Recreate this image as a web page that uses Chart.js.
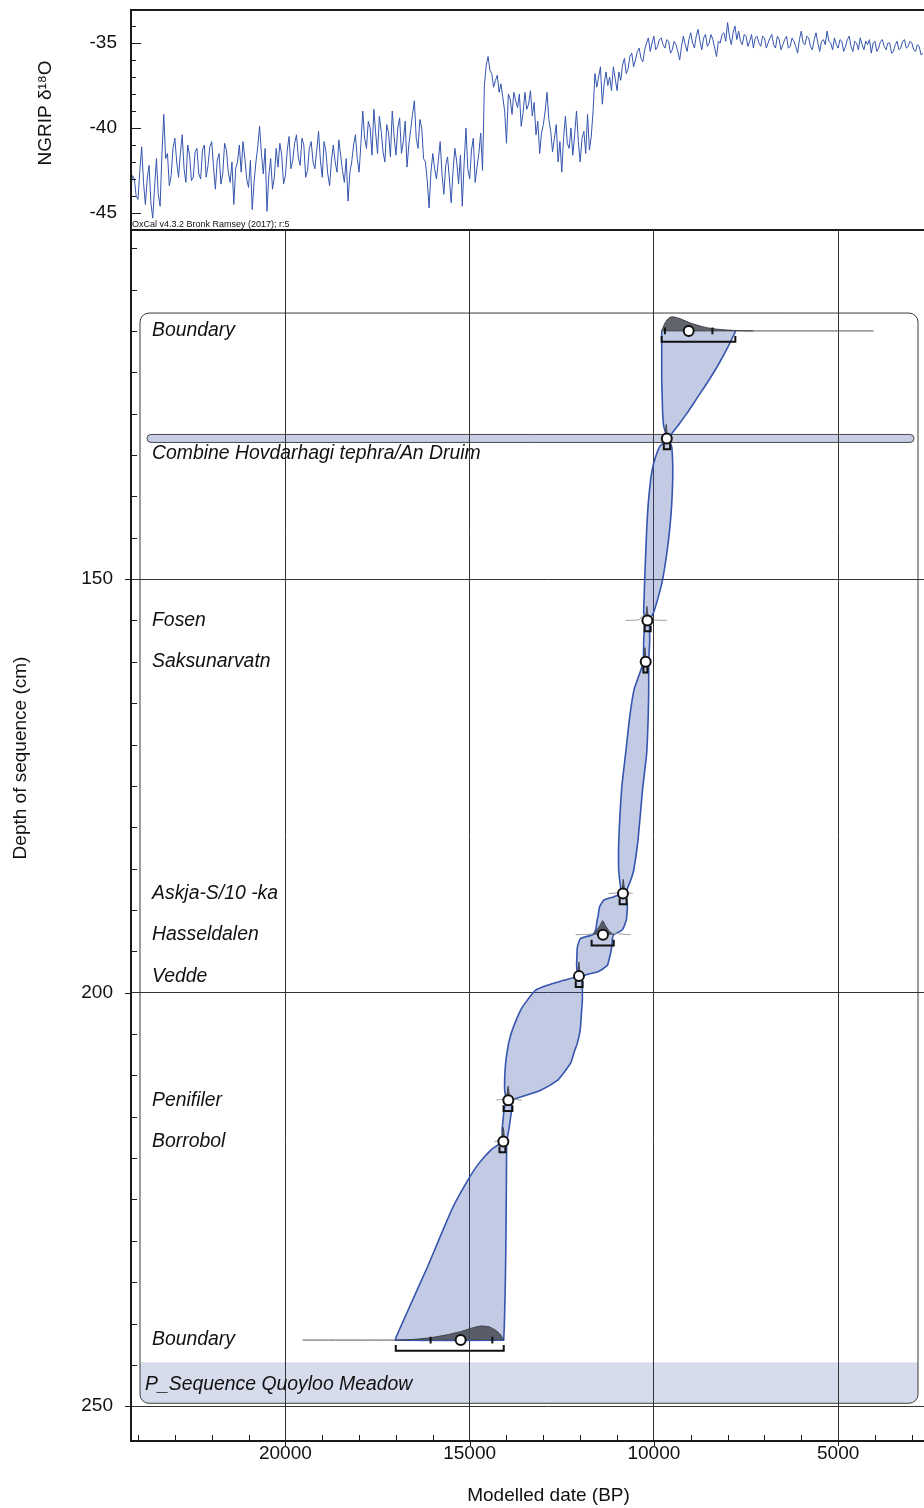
<!DOCTYPE html>
<html>
<head>
<meta charset="utf-8">
<title>Quoyloo Meadow age-depth model</title>
<script src="https://cdn.jsdelivr.net/npm/chart.js@4.4.1/dist/chart.umd.min.js"></script>
<style>
  html, body { margin: 0; padding: 0; background: #fff; overflow: hidden; }
  #wrap { position: relative; width: 924px; height: 1508px; overflow: hidden; }
  #wrap canvas { position: absolute; left: 0; }
  #ngrip { top: 0; }
  #depth { top: 228px; }
</style>
</head>
<body>
<div id="wrap">
  <canvas id="ngrip" width="966" height="230"></canvas>
  <canvas id="depth" width="966" height="1280"></canvas>
</div>
<script>
// NGRIP d18O, one value every 50 years starting at 24200 BP
const ngripStart = 24200;
const ngripStep = 50;
const ngripD18O = [
  -43.6, -42.8, -43.0, -44.0, -44.2, -42.5, -41.1, -43.2, -44.5, -43.0, -42.2, -44.4, -45.3, -43.5, -41.8, -43.9, -44.6, -41.5, -39.2, -41.8,
  -41.5, -43.4, -42.8, -41.2, -40.6, -42.0, -42.9, -41.5, -40.4, -42.4, -43.2, -41.0, -41.6, -43.1, -42.9, -41.4, -41.2, -42.7, -43.0, -41.3,
  -41.0, -42.9, -42.2, -41.1, -40.8, -42.3, -43.6, -41.9, -41.5, -43.3, -42.7, -40.9, -41.3, -42.6, -43.2, -42.0, -44.5, -42.4, -42.0, -41.0,
  -42.6, -40.8, -41.8, -43.0, -43.5, -41.9, -44.8, -43.2, -42.0, -41.1, -39.9, -41.5, -42.7, -41.2, -44.9, -42.8, -41.8, -43.6, -42.9, -41.2,
  -42.3, -40.9, -41.6, -43.3, -42.8, -41.3, -40.5, -42.4, -41.9, -40.9, -40.4, -41.7, -42.2, -40.6, -41.0, -42.9, -42.5, -41.2, -40.8, -42.0,
  -42.4, -41.3, -40.2, -41.9, -42.9, -40.8, -41.4, -42.7, -43.4, -41.9, -41.0, -42.0, -42.6, -40.7, -41.6, -42.5, -43.2, -41.8, -44.3, -42.6,
  -42.0, -41.0, -40.4, -41.8, -42.6, -40.9, -39.0, -40.6, -41.2, -39.6, -40.0, -41.6, -38.9, -40.3, -41.5, -39.3, -40.2, -41.4, -42.0, -39.8,
  -40.3, -41.7, -39.0, -40.5, -41.6, -40.0, -39.4, -41.5, -40.8, -39.6, -42.3, -41.0, -40.1, -39.2, -38.4, -40.6, -41.2, -39.5, -40.0, -41.8,
  -42.0, -43.1, -44.7, -42.6, -41.5, -42.4, -43.0, -41.9, -40.8, -42.7, -43.9, -42.2, -41.7, -43.0, -44.4, -42.5, -41.2, -42.0, -43.3, -41.6,
  -44.6, -42.1, -40.0, -42.4, -43.0, -41.3, -40.6, -43.2, -42.3, -41.5, -40.3, -42.5, -37.5, -36.3, -35.8, -36.6, -36.8, -37.6, -37.2, -36.9,
  -37.9, -37.4, -38.2, -39.0, -40.9, -38.0, -38.3, -39.2, -37.9, -38.4, -38.8, -38.0, -39.9, -39.1, -37.9, -38.9, -38.6, -37.8, -39.3, -38.5,
  -40.4, -39.6, -41.5, -40.3, -39.8, -39.0, -37.9, -39.5, -40.2, -41.4, -40.6, -39.8, -42.0, -40.8, -42.6, -40.6, -39.3, -40.9, -41.2, -40.0,
  -41.6, -40.4, -39.0, -40.8, -42.0, -40.6, -40.2, -41.5, -39.2, -41.3, -40.5, -39.0, -36.8, -37.6, -37.0, -36.4, -38.6, -37.4, -36.7, -37.5,
  -37.0, -37.8, -36.4, -37.1, -37.8, -36.7, -37.2, -36.3, -35.9, -36.8, -36.5, -35.8, -35.6, -36.4, -36.0, -35.5, -35.3, -35.9, -36.1, -35.4,
  -35.0, -34.7, -35.5, -35.0, -34.6, -35.4, -35.2, -34.8, -34.7, -35.1, -35.3, -34.8, -34.9, -35.6, -35.4, -34.9, -35.1, -35.5, -36.0, -35.2,
  -34.6, -35.1, -35.5, -34.8, -34.4, -35.0, -35.3, -34.6, -34.2, -34.9, -35.4, -34.7, -34.5, -35.2, -35.0, -34.5, -34.8, -35.3, -35.8, -34.9,
  -35.0, -34.5, -34.4, -34.9, -33.8, -34.6, -35.1, -34.4, -34.0, -34.8, -34.3, -34.9, -35.1, -34.5, -34.6, -35.2, -34.9, -34.5, -35.3, -34.7,
  -34.6, -35.0, -35.2, -34.6, -34.7, -35.3, -35.0, -34.7, -34.5, -35.1, -35.3, -34.6, -34.8, -35.4, -35.1, -34.8, -34.6, -35.3, -35.2, -34.7,
  -34.9, -35.2, -35.6, -34.8, -34.3, -35.0, -35.1, -34.6, -34.7, -35.2, -35.4, -34.8, -34.4, -35.0, -35.5, -34.9, -34.8, -35.1, -34.3, -34.9,
  -35.0, -35.4, -34.7, -35.1, -35.3, -34.8, -34.9, -35.5, -35.2, -34.8, -34.6, -35.2, -35.5, -34.9, -35.0, -35.4, -34.7, -35.1, -35.4, -34.9,
  -35.1, -34.8, -35.6, -35.0, -34.9, -35.5, -35.3, -34.9, -34.8, -35.2, -35.4, -35.0, -35.0, -35.6, -35.5, -35.1, -34.9, -35.4, -35.3, -34.9,
  -34.8, -35.3, -35.2, -34.9, -35.0, -35.4, -35.5, -35.1, -35.2, -35.7, -35.6
];

// dated horizons of the P_Sequence (depth in cm, dates in years BP)
const eventNames = ['Boundary', 'Combine Hovdarhagi tephra/An Druim', 'Fosen', 'Saksunarvatn',
  'Askja-S/10 -ka', 'Hasseldalen', 'Vedde', 'Penifiler', 'Borrobol', 'Boundary'];
const eventDepths = [120, 133, 155, 160, 188, 193, 198, 213, 218, 242];
const eventMedians = [9055, 9650, 10176, 10223, 10839, 11382, 12033, 13950, 14085, 15244];
const range95From = [9790, 9730, 10250, 10285, 10930, 11690, 12120, 14080, 14190, 17005];
const range95To = [7790, 9560, 10087, 10176, 10740, 11090, 11935, 13840, 14030, 14075];
const range68From = [9700, null, null, null, null, null, null, null, null, 16059];
const range68To = [8412, null, null, null, null, null, null, null, null, 14384];

// modelled (posterior) densities: [year BP, relative density]
const posteriors = [
  [[9790, 0], [9700, 0.55], [9634, 0.82], [9560, 0.97], [9498, 1], [9400, 0.96], [9319, 0.9], [9180, 0.75],
   [9047, 0.6], [8880, 0.45], [8730, 0.34], [8580, 0.24], [8412, 0.16], [8200, 0.1], [8005, 0.06],
   [7800, 0.03], [7644, 0.015], [7300, 0]],
  [[9740, 0], [9690, 0.3], [9665, 1], [9640, 0.3], [9570, 0]],
  [[10310, 0], [10240, 0.2], [10205, 0.55], [10190, 1], [10172, 0.55], [10130, 0.18], [10080, 0]],
  [[10295, 0], [10262, 0.3], [10242, 1], [10222, 0.3], [10180, 0]],
  [[10910, 0], [10860, 0.3], [10830, 1], [10800, 0.3], [10750, 0]],
  [[11650, 0], [11560, 0.28], [11465, 0.65], [11390, 1], [11315, 0.65], [11220, 0.28], [11110, 0]],
  [[12100, 0], [12060, 0.3], [12035, 1], [12010, 0.3], [11965, 0]],
  [[14045, 0], [13990, 0.35], [13955, 1], [13920, 0.35], [13840, 0]],
  [[14160, 0], [14110, 0.35], [14085, 1], [14060, 0.35], [14000, 0]],
  [[17010, 0], [16512, 0.05], [16059, 0.17], [15605, 0.38], [15244, 0.6], [14973, 0.83], [14701, 1],
   [14476, 0.95], [14294, 0.7], [14158, 0.38], [14085, 0]]
];

// unmodelled (prior) densities
const priors = [
  [[9790, 0], [4040, 0]],
  [[9760, 0], [9700, 0.15], [9650, 0.2], [9600, 0.15], [9480, 0]],
  [[10765, 0], [10400, 0.05], [10300, 0.35], [10230, 0.45], [10180, 0.2], [10100, 0.05], [9653, 0]],
  [[10300, 0], [10150, 0]],
  [[11227, 0], [10950, 0.05], [10860, 0.25], [10800, 0.1], [10575, 0]],
  [[12123, 0], [11700, 0.05], [11450, 0.2], [11300, 0.15], [10630, 0]],
  [[12150, 0], [11900, 0]],
  [[14275, 0], [14050, 0.1], [13950, 0.2], [13850, 0.1], [13590, 0]],
  [[14321, 0], [14120, 0.15], [14085, 0.2], [14040, 0.1], [13941, 0]],
  [[19530, 0], [17009, 0]]
];

// 95% envelope of the age-depth model: older and younger limits at each depth
const envDepth = [120, 122, 124, 126, 128, 130, 131.5, 133, 134, 136, 138, 141, 144, 147, 150, 152, 154, 155,
  157.5, 160, 161.4, 163.4, 166.7, 171, 175.3, 181.9, 185.2, 186.4, 188, 188.4, 188.8, 189.6, 190.8, 191.2,
  192.4, 193, 193.45, 194.5, 195.2, 196.4, 196.7, 197.4, 197.8, 198, 198.5, 199.1, 199.7, 200.9, 202.1, 204.5,
  206.1, 207, 208.5, 209.7, 210.6, 211.8, 212.5, 213, 214.1, 215, 216.5, 218, 219, 220.7, 222.9, 225.9, 229.5,
  233.2, 236.8, 240.4, 241.8, 242];
const envOld = [9788, 9788, 9788, 9788, 9775, 9761, 9734, 9653, 9843, 10005, 10087, 10155, 10195, 10223, 10250,
  10263, 10277, 10250, 10277, 10290, 10385, 10540, 10657, 10765, 10874, 10955, 10955, 10928, 10901, 11083, 11354,
  11471, 11517, 11539, 11580, 11661, 11987, 12077, 12087, 12096, 12096, 12085, 12077, 12055, 12440, 12891, 13208,
  13434, 13616, 13841, 13941, 13977, 14023, 14042, 14050, 14050, 14023, 13996, 14063, 14085, 14118, 14131, 14420,
  14760, 15080, 15450, 15800, 16148, 16512, 16873, 17009, 17009];
const envYoung = [7780, 7997, 8241, 8513, 8811, 9110, 9354, 9598, 9517, 9490, 9490, 9517, 9571, 9653, 9761,
  9870, 10005, 10114, 10114, 10141, 10141, 10141, 10155, 10195, 10304, 10440, 10548, 10630, 10766, 10746, 10738,
  10719, 10738, 10746, 10855, 11091, 11126, 11145, 11173, 11240, 11262, 11490, 11805, 11933, 11941, 11941, 11941,
  11941, 11960, 12000, 12077, 12150, 12258, 12448, 12619, 13073, 13526, 13860, 13860, 13887, 13933, 13996, 13996,
  14000, 14002, 14008, 14015, 14025, 14040, 14060, 14075, 14077];

// labelled ticks
const dateLabels = [20000, 15000, 10000, 5000];
const depthLabels = [150, 200, 250];
const d18OLabels = [-45, -40, -35];

const FONT = '"Liberation Sans", Arial, sans-serif';
const AXIS = '#1a1a1a';
const GRID = '#333';
const BLUE = '#3555ae';
const ENV_FILL = 'rgba(55,82,165,0.3)';
const PEAK_CM = 1.7;   // drawn height of a density peak, in cm of depth
const X_MIN = 1530, X_MAX = 24190;

Chart.defaults.font.family = FONT;
Chart.defaults.font.size = 19;
Chart.defaults.color = '#111';

// keep the plot area where the layout puts it, with no room reserved for edge labels
const fixY = s => { s.width = 131; s.paddingTop = 0; s.paddingBottom = 0; };
const fixX = s => { s.height = 67; s.paddingLeft = 0; s.paddingRight = 0; };
const onlyTicks = values => s => { s.ticks = values.map(v => ({value: v})); };

// frame lines and inward minor ticks
const axisDecor = {
  id: 'axisDecor',
  afterDraw(chart, args, o) {
    const {ctx, chartArea: a, scales} = chart;
    ctx.save();
    ctx.strokeStyle = AXIS;
    ctx.lineWidth = 1;
    ctx.beginPath();
    if (o.y) {
      const s = scales.y;
      for (let v = o.y.from; v <= o.y.to + 1e-9; v += o.y.step) {
        const p = Math.round(s.getPixelForValue(v)) + 0.5;
        const major = Math.abs(v % o.y.major) < 1e-9;
        ctx.moveTo(a.left - (major ? o.y.out : 0), p);
        ctx.lineTo(a.left + (major ? o.y.majorIn : o.y.minorIn), p);
      }
    }
    if (o.x) {
      const s = scales.x;
      for (let v = o.x.from; v <= o.x.to + 1e-9; v += o.x.step) {
        const p = Math.round(s.getPixelForValue(v)) + 0.5;
        const major = Math.abs(v % o.x.major) < 1e-9;
        ctx.moveTo(p, a.bottom + (major ? o.x.out : 0));
        ctx.lineTo(p, a.bottom - (major ? o.x.majorIn : o.x.minorIn));
      }
    }
    ctx.stroke();
    ctx.lineWidth = 2;
    ctx.beginPath();
    o.frame.forEach(side => {
      if (side === 'left') { ctx.moveTo(a.left, a.top - 1); ctx.lineTo(a.left, a.bottom + 1); }
      if (side === 'top') { ctx.moveTo(a.left - 1, a.top); ctx.lineTo(a.right, a.top); }
      if (side === 'bottom') { ctx.moveTo(a.left - 1, a.bottom); ctx.lineTo(a.right, a.bottom); }
    });
    ctx.stroke();
    ctx.restore();
  }
};

// rotated y-axis title, centred on the given point
const yTitle = {
  id: 'yTitle',
  afterDraw(chart, args, o) {
    const {ctx} = chart;
    ctx.save();
    ctx.font = '19px ' + FONT;
    ctx.fillStyle = '#111';
    ctx.textAlign = 'center';
    ctx.textBaseline = 'middle';
    ctx.translate(o.x, o.y);
    ctx.rotate(-Math.PI / 2);
    ctx.fillText(o.text, 0, 0);
    ctx.restore();
  }
};

const credit = {
  id: 'credit',
  afterDraw(chart) {
    const {ctx, chartArea: a} = chart;
    ctx.save();
    ctx.font = '9px ' + FONT;
    ctx.fillStyle = '#111';
    ctx.textBaseline = 'bottom';
    ctx.fillText('OxCal v4.3.2 Bronk Ramsey (2017); r:5', a.left + 1, a.bottom - 1);
    ctx.restore();
  }
};

// sequence box, P_Sequence band and the Combine bar, under the grid
const seqBox = {
  id: 'seqBox',
  beforeDraw(chart) {
    const {ctx, chartArea: a, scales: {y}} = chart;
    const left = a.left + 9, right = a.right - 48;
    const top = y.getPixelForValue(117.84), bottom = y.getPixelForValue(249.64);
    ctx.save();
    ctx.beginPath();
    ctx.roundRect(left, top, right - left, bottom - top, 9);
    ctx.save();
    ctx.clip();
    ctx.fillStyle = '#d7dcec';
    const bandTop = y.getPixelForValue(244.7);
    ctx.fillRect(left, bandTop, right - left, bottom - bandTop);
    ctx.restore();
    ctx.strokeStyle = '#3a3a3a';
    ctx.lineWidth = 1;
    ctx.stroke();

    const cy = y.getPixelForValue(eventDepths[1]);
    const l2 = a.left + 16, r2 = a.right - 52;
    ctx.beginPath();
    ctx.roundRect(l2, cy - 4, r2 - l2, 8, 4);
    ctx.fillStyle = '#c7cee6';
    ctx.fill();
    ctx.strokeStyle = '#4a4a4a';
    ctx.stroke();
    ctx.restore();
  }
};

const seqLabels = {
  id: 'seqLabels',
  afterDatasetsDraw(chart) {
    const {ctx, chartArea: a, scales: {y}} = chart;
    ctx.save();
    ctx.font = 'italic 19.4px ' + FONT;
    ctx.fillStyle = '#111';
    ctx.textBaseline = 'middle';
    eventNames.forEach((name, i) => {
      const dy = name.startsWith('Combine') ? 15 : 0;
      ctx.fillText(name, a.left + 21, y.getPixelForValue(eventDepths[i]) + dy);
    });
    ctx.fillText('P_Sequence Quoyloo Meadow', a.left + 14, y.getPixelForValue(247.44));
    ctx.restore();
  }
};

// ---- NGRIP panel ----
const ngripPts = ngripD18O.map((v, i) => ({x: ngripStart - i * ngripStep, y: v}));

new Chart(document.getElementById('ngrip'), {
  type: 'scatter',
  data: {datasets: [{
    data: ngripPts, showLine: true, borderColor: BLUE, borderWidth: 1,
    pointRadius: 0
  }]},
  options: {
    responsive: false, animation: false, devicePixelRatio: 1, events: [],
    layout: {autoPadding: false, padding: {top: 10, left: 0, right: 0, bottom: 0}},
    plugins: {legend: {display: false}, tooltip: {enabled: false},
      axisDecor: {frame: ['left', 'top'],
        y: {from: -46, to: -34, step: 1, major: 5, minorIn: 5, majorIn: 10, out: 0}},
      yTitle: {x: 46, y: 113, text: 'NGRIP δ¹⁸O'}},
    scales: {
      x: {type: 'linear', reverse: true, min: X_MIN, max: X_MAX, display: false},
      y: {
        type: 'linear', min: -46, max: -33.06,
        afterFit: fixY, afterBuildTicks: onlyTicks(d18OLabels),
        grid: {display: false, drawTicks: false},
        border: {display: false},
        ticks: {autoSkip: false, padding: 14, callback: v => String(v)}
      }
    }
  },
  plugins: [axisDecor, credit, yTitle]
});

// ---- age-depth panel ----
const depthSets = [];

depthSets.push({
  data: eventMedians.map((m, i) => ({x: m, y: eventDepths[i]})),
  pointRadius: 5, pointBorderWidth: 2, pointBackgroundColor: '#fff', pointBorderColor: '#111'
});

eventDepths.forEach((d, i) => {
  const a = d + 0.6, b = d + 1.3;
  depthSets.push({
    data: [{x: range95From[i], y: a}, {x: range95From[i], y: b}, {x: range95To[i], y: b}, {x: range95To[i], y: a}],
    showLine: true, borderColor: '#111', borderWidth: 2, pointRadius: 0
  });
  if (range68From[i] != null) {
    [range68From[i], range68To[i]].forEach(t => depthSets.push({
      data: [{x: t, y: d - 0.4}, {x: t, y: d + 0.4}],
      showLine: true, borderColor: '#111', borderWidth: 2, pointRadius: 0
    }));
  }
});

posteriors.forEach((p, i) => {
  const d = eventDepths[i];
  depthSets.push({
    data: p.map(([yr, f]) => ({x: yr, y: d - f * PEAK_CM})),
    showLine: true, fill: 'shape', backgroundColor: 'rgba(70,74,84,0.85)',
    borderColor: '#3b3e46', borderWidth: 1, pointRadius: 0, tension: 0.15
  });
});

priors.forEach((p, i) => {
  const d = eventDepths[i];
  const edge = i === 0 || i === priors.length - 1;
  depthSets.push({
    data: p.map(([yr, f]) => ({x: yr, y: d - f * PEAK_CM})),
    showLine: true, borderColor: edge ? '#555' : '#9a9a9a', borderWidth: 1, pointRadius: 0, tension: 0.2
  });
});

const envPts = envDepth.map((d, i) => ({x: envOld[i], y: d}))
  .concat(envDepth.map((d, i) => ({x: envYoung[i], y: d})).reverse());
depthSets.push({
  data: envPts, showLine: true, fill: 'shape', backgroundColor: ENV_FILL,
  borderColor: BLUE, borderWidth: 1.6, pointRadius: 0, tension: 0.2
});

new Chart(document.getElementById('depth'), {
  type: 'scatter',
  data: {datasets: depthSets},
  options: {
    responsive: false, animation: false, devicePixelRatio: 1, events: [],
    layout: {autoPadding: false, padding: {top: 2, left: 0, right: 0, bottom: 0}},
    plugins: {legend: {display: false}, tooltip: {enabled: false},
      axisDecor: {frame: ['left', 'top', 'bottom'],
        y: {from: 110, to: 250, step: 5, major: 50, minorIn: 6, majorIn: 0, out: 6},
        x: {from: 2000, to: 24000, step: 1000, major: 5000, minorIn: 6, majorIn: 0, out: 5}},
      yTitle: {x: 21, y: 530, text: 'Depth of sequence (cm)'}},
    scales: {
      x: {
        type: 'linear', reverse: true, min: X_MIN, max: X_MAX,
        afterFit: fixX, afterBuildTicks: onlyTicks(dateLabels),
        grid: {drawTicks: false, lineWidth: 1, color: GRID},
        border: {display: false},
        ticks: {autoSkip: false, maxRotation: 0, padding: 1, callback: v => String(v)},
        title: {display: true, text: 'Modelled date (BP)', padding: {top: 0, bottom: 1}}
      },
      y: {
        type: 'linear', reverse: true, min: 107.8, max: 254.2,
        afterFit: fixY, afterBuildTicks: onlyTicks(depthLabels),
        grid: {drawTicks: false, lineWidth: 1, color: GRID},
        border: {display: false},
        ticks: {autoSkip: false, padding: 18, callback: v => String(v)}
      }
    }
  },
  plugins: [seqBox, axisDecor, seqLabels, yTitle]
});
</script>
</body>
</html>
